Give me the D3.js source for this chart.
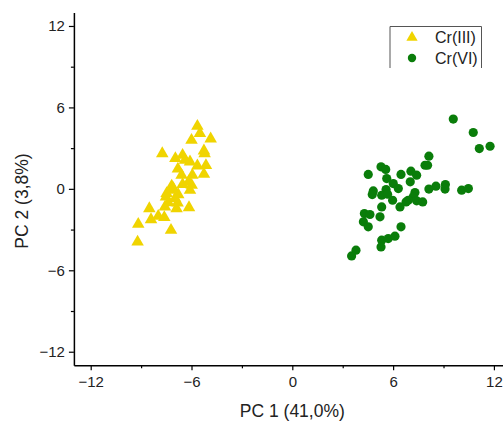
<!DOCTYPE html>
<html lang="en">
<head>
  <meta charset="UTF-8">
  <title>PCA Cr(III) / Cr(VI)</title>
  <script src="https://cdn.jsdelivr.net/npm/d3@7"></script>
  <style>
    body { margin: 0; background: #fff; }
    text { font-family: Arial, "Liberation Sans", sans-serif; }
  </style>
</head>
<body>

  <div id="container"></div>

  <script>
    // Scores (PC1, PC2)
    const cr3_pc1 = [-5.65, -5.50, -4.86, -6.00, -7.74, -5.26, -6.53, -6.96, -6.09, -5.22,
                     -5.65, -5.14, -6.81, -5.26, -6.59, -5.95, -6.17, -5.99, -6.53, -7.18,
                     -7.28, -6.09, -7.48, -6.79, -6.98, -7.38, -6.83, -6.15, -6.89, -7.58,
                     -8.51, -7.98, -8.41, -7.62, -9.17, -7.22, -9.21, -7.52, -7.08, -6.39];
    const cr3_pc2 = [4.62, 4.08, 3.69, 3.59, 2.60, 2.80, 2.48, 2.24, 1.99, 2.60,
                     1.70, 1.72, 1.47, 1.08, 1.01, 1.01, 0.52, 0.27, 0.32, 0.22,
                     -0.10, -0.10, -0.34, -0.42, -0.71, -1.01, -1.03, -1.38, -1.45, -1.33,
                     -1.45, -2.01, -2.26, -2.11, -2.60, -3.05, -3.91, -0.59, 0.02, 2.11];

    const cr6_pc1 = [9.58, 10.77, 11.13, 11.77, 8.13, 7.90, 8.05, 5.28, 5.56, 4.52,
                     6.47, 7.06, 7.40, 7.02, 5.62, 6.01, 6.31, 5.58, 8.55, 9.11,
                     9.09, 8.13, 10.08, 10.48, 4.82, 4.76, 5.32, 5.67, 5.97, 7.30,
                     7.20, 6.90, 7.40, 7.76, 6.77, 5.32, 6.41, 4.29, 4.62, 5.22,
                     4.23, 4.52, 6.47, 5.32, 5.71, 6.11, 5.28, 3.79, 3.53];
    const cr6_pc2 = [5.14, 4.15, 2.97, 3.14, 2.41, 1.74, 1.74, 1.62, 1.43, 1.06,
                     1.06, 1.30, 1.01, 0.52, 0.76, 0.39, 0.02, -0.05, 0.20, 0.32,
                     -0.02, -0.02, -0.10, 0.02, -0.15, -0.42, -0.47, -0.39, -0.84, -0.27,
                     -0.59, -0.84, -0.88, -0.96, -0.96, -1.33, -1.33, -1.82, -1.89, -2.06,
                     -2.43, -2.80, -2.80, -3.78, -3.66, -3.49, -4.28, -4.52, -4.94];

    const seriesNames = ["Cr(III)", "Cr(VI)"];
    const majorTicks = [-12, -6, 0, 6, 12];
    const minorTicks = [-9, -3, 3, 9];

    const width = 503;
    const height = 421;
    const yellow = "#f0d400";
    const green = "#0a7d0a";

    const x = d3.scaleLinear().domain([-13, 12.6]).range([73.9, 504]);
    const y = d3.scaleLinear().domain([-13, 13]).range([365.3, 12.4]);

    const svg = d3.select("#container")
      .append("svg")
      .attr("width", width)
      .attr("height", height)
      .attr("viewBox", [0, 0, width, height]);

    // Ejes: minor ticks first, then major with labels
    svg.append("g")
      .attr("transform", `translate(0,${y(-13)})`)
      .call(d3.axisBottom(x).tickValues(minorTicks).tickSize(3).tickFormat(""))
      .call(g => g.select(".domain").remove());

    svg.append("g")
      .attr("transform", `translate(${x(-13)},0)`)
      .call(d3.axisLeft(y).tickValues(minorTicks).tickSize(3).tickFormat(""))
      .call(g => g.select(".domain").remove());

    const xAxis = svg.append("g")
      .attr("transform", `translate(0,${y(-13)})`)
      .call(d3.axisBottom(x).tickValues(majorTicks).tickSize(5).tickSizeOuter(0).tickPadding(6));

    const yAxis = svg.append("g")
      .attr("transform", `translate(${x(-13)},0)`)
      .call(d3.axisLeft(y).tickValues(majorTicks).tickSize(5).tickSizeOuter(0).tickPadding(4));

    [xAxis, yAxis].forEach(g => {
      g.attr("font-family", null).attr("font-size", 15);
      g.select(".domain").attr("stroke-width", 1.5);
      g.selectAll(".tick text").attr("fill", "#222");
    });
    svg.selectAll(".tick line").attr("stroke-width", 1.2);

    // Puntos
    const tri = d3.symbol().type(d3.symbolTriangle).size(68);
    svg.append("g")
      .attr("fill", yellow)
      .selectAll("path")
      .data(d3.zip(cr3_pc1, cr3_pc2))
      .join("path")
      .attr("d", tri)
      .attr("transform", d => `translate(${x(d[0])},${y(d[1])})`);

    svg.append("g")
      .attr("fill", green)
      .selectAll("circle")
      .data(d3.zip(cr6_pc1, cr6_pc2))
      .join("circle")
      .attr("cx", d => x(d[0]))
      .attr("cy", d => y(d[1]))
      .attr("r", 4.6);

    // Axis titles
    svg.append("text")
      .attr("x", x(0))
      .attr("y", 417)
      .attr("text-anchor", "middle")
      .attr("font-size", 17.5)
      .attr("fill", "#222")
      .text("PC 1 (41,0%)");

    svg.append("text")
      .attr("transform", "translate(28,201) rotate(-90)")
      .attr("text-anchor", "middle")
      .attr("font-size", 17.5)
      .attr("fill", "#222")
      .text("PC 2 (3,8%)");

    // Legend (box open at the bottom, as in the original)
    const legend = svg.append("g");
    legend.append("path")
      .attr("d", "M390,68V26.5H481.5V68")
      .attr("fill", "none")
      .attr("stroke", "#555")
      .attr("stroke-width", 1);

    legend.append("path")
      .attr("d", d3.symbol().type(d3.symbolTriangle).size(55))
      .attr("transform", "translate(412,37.5)")
      .attr("fill", yellow);
    legend.append("circle")
      .attr("cx", 412).attr("cy", 58)
      .attr("r", 4.2)
      .attr("fill", green);

    legend.selectAll("text.lab")
      .data(seriesNames)
      .join("text")
      .attr("class", "lab")
      .attr("x", 435)
      .attr("y", (d, i) => 42.5 + i * 21)
      .attr("font-size", 16)
      .attr("fill", "#222")
      .text(d => d);
  </script>

</body>
</html>
